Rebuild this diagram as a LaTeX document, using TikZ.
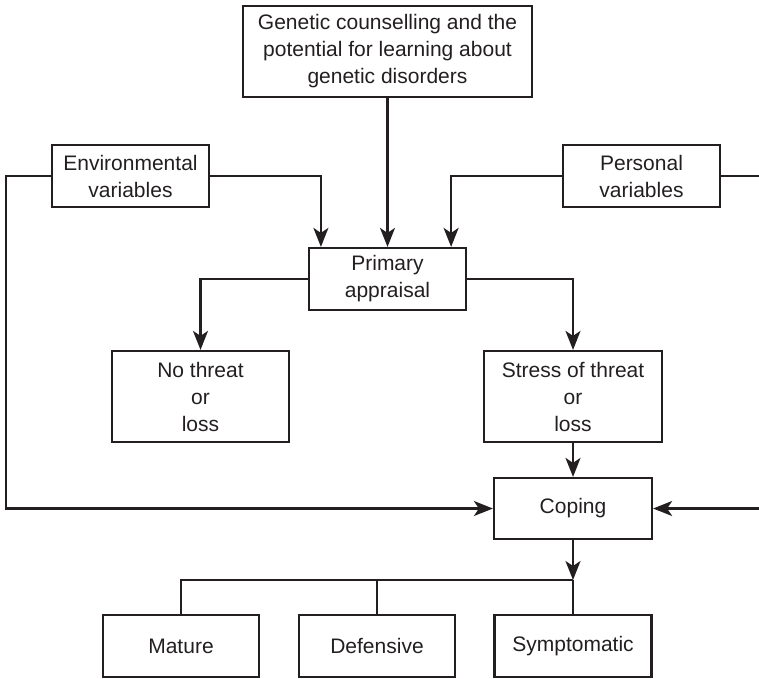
\documentclass[tikz,border=0pt]{standalone}
\usepackage{fontspec}
\setmainfont{Liberation Sans}
\usetikzlibrary{arrows.meta,calc}
\definecolor{ink}{HTML}{231F20}
\begin{document}
\begin{tikzpicture}[x=1pt,y=-1pt,
  box/.style={draw=ink,line width=2.2pt,rectangle,inner sep=0pt,align=center,
    text=ink,font=\fontsize{21}{27}\selectfont},
  conn/.style={draw=ink,line width=2.2pt},
  arr/.style={conn,-{Stealth[length=19pt,width=15pt,inset=5pt]}}]
\useasboundingbox (0,0) rectangle (759,678);
% nodes
\node[box,minimum width=289pt,minimum height=91pt] (top) at (387.5,51.5)
  {Genetic counselling and the\\potential for learning about\\genetic disorders};
\node[box,minimum width=157pt,minimum height=62pt] (env) at (130.5,176)
  {Environmental\\variables};
\node[box,minimum width=157pt,minimum height=62pt] (pers) at (641.5,176)
  {Personal\\variables};
\node[box,minimum width=157pt,minimum height=62pt] (prim) at (387.5,279)
  {Primary\\appraisal};
\node[box,minimum width=177pt,minimum height=91pt] (nt) at (200.5,396.5)
  {No threat\\or\\loss};
\node[box,minimum width=178pt,minimum height=91pt] (st) at (573,396.5)
  {Stress of threat\\or\\loss};
\node[box,minimum width=158pt,minimum height=61pt] (cop) at (573,508.5)
  {Coping};
\node[box,minimum width=156pt,minimum height=62pt] (mat) at (181,646)
  {Mature};
\node[box,minimum width=156pt,minimum height=62pt] (def) at (377,646)
  {Defensive};
\node[box,minimum width=157pt,minimum height=62pt] (sym) at (573,646)
  {Symptomatic};
% free ends
\coordinate (pr) at (759,176);
\coordinate (cr) at (759,508.5);
\coordinate (lx) at (6,176);
\coordinate (br) at (573,580);
% connectors
\draw[arr] (top.south) -- (prim.north);
\draw[arr] (env.east) -| ([xshift=13pt]prim.north west);
\draw[arr] (pers.west) -| ([xshift=-16pt]prim.north east);
\draw[conn] (pers.east) -- (pr);
\draw[arr] (env.west) -- (lx) |- (cop.west);
\draw[arr] (cr) -- (cop.east);
\draw[arr] (prim.west) -| (nt.north);
\draw[arr] (prim.east) -| (st.north);
\draw[arr] (st.south) -- (cop.north);
\draw[arr] (cop.south) -- (br);
\draw[conn] (mat.north) |- (br);
\draw[conn] (def.north) -- (def.north |- br);
\draw[conn] (sym.north) -- (br);
\end{tikzpicture}
\end{document}
